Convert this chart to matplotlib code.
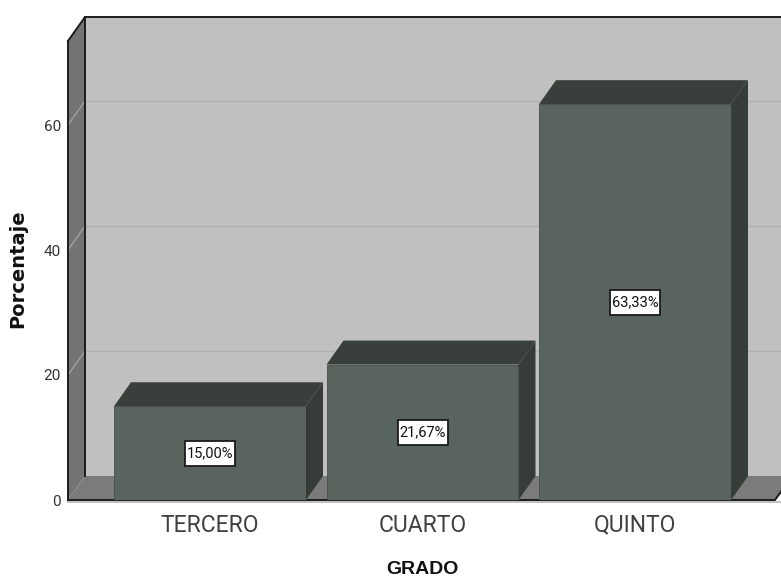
import matplotlib
matplotlib.use('Agg')
import matplotlib.pyplot as plt
from matplotlib.patches import Rectangle

categories = ['TERCERO', 'CUARTO', 'QUINTO']
percentages = [15.00, 21.67, 63.33]
labels = ['15,00%', '21,67%', '63,33%']
y_ticks = [0, 20, 40, 60]

plt.rcParams['font.family'] = ['Roboto', 'DejaVu Sans']

width_px, height_px = 781, 581
fig = plt.figure(figsize=(width_px / 100, height_px / 100), dpi=100)

# axes covers the front plane of the 3d box, pixel positions from the reference
left, right, top, bottom = 68, 781, 17, 500
ax = fig.add_axes([left / width_px, 1 - bottom / height_px,
                   (right - left) / width_px, (bottom - top) / height_px])

px_x = 212.5   # pixels per category
px_y = 6.25    # pixels per percent
first_center = 210
ax.set_xlim((left - first_center) / px_x, (right - first_center) / px_x)
ax.set_ylim(0, (bottom - top) / px_y)
ax.axis('off')

# depth of the fake 3d effect
dx = 17 / px_x
dy = 24 / px_y
bar_w = 192 / px_x

x0, x1 = ax.get_xlim()
y1 = ax.get_ylim()[1]
y_front_top = y1 - dy
x_back = x0 + dx
x_far = x1 + dx

# back wall, left wall, floor
ax.fill([x_back, x_far, x_far, x_back], [dy, dy, y1, y1], fc='#c0c0c0', ec='none', zorder=1, clip_on=False)
ax.fill([x0, x_back, x_back, x0], [0, dy, y1, y_front_top], fc='#747474', ec='none', zorder=1, clip_on=False)
floor_end = x1 - 6 / px_x
ax.fill([x0, x_back, x_far, floor_end], [0, dy, dy, 0], fc='#7b7b7b', ec='none', zorder=1, clip_on=False)

# grid lines run across the wall and the back
for v in y_ticks[1:]:
    ax.plot([x0, x_back], [v, v + dy], color='#a0a0a0', lw=1, zorder=2)
    ax.plot([x_back, x_far], [v + dy, v + dy], color='#b0b0b0', lw=1, zorder=2, clip_on=True)

# box edges
edge = '#1c1c1c'
ax.plot([x0, x0], [0, y_front_top], color=edge, lw=1.4, zorder=3, clip_on=False)
ax.plot([x_back, x_back], [dy, y1], color=edge, lw=1.4, zorder=3, clip_on=False)
ax.plot([x0, x_back, x_far], [y_front_top, y1, y1], color=edge, lw=1.4, zorder=3, clip_on=False)
ax.plot([x0, floor_end, floor_end + dx * 0.4], [0, 0, dy * 0.4], color=edge, lw=1.4, zorder=3, clip_on=False)
ax.plot([x0, x1], [-0.3, -0.3], color='#b5b5b5', lw=1.2, zorder=3, clip_on=False)

# bars
positions = list(range(len(categories)))
bars = ax.bar(positions, percentages, width=bar_w, color='#5a645e', edgecolor='#474f4a', lw=0.6, zorder=4)
for rect, value in zip(bars, percentages):
    a = rect.get_x()
    b = a + rect.get_width()
    ax.fill([a, a + dx, b + dx, b], [value, value + dy, value + dy, value],
            fc='#393f3a', ec='none', zorder=4)
    ax.fill([b, b + dx, b + dx, b], [0, dy, value + dy, value],
            fc='#363c37', ec='none', zorder=4)

# value boxes
box_w = 50 / px_x
box_h = 25 / px_y
for pos, value, lab in zip(positions, percentages, labels):
    ax.add_patch(Rectangle((pos - box_w / 2, value / 2 - box_h / 2), box_w, box_h,
                           fc='white', ec='#1a1a1a', lw=1.3, zorder=5))
    ax.text(pos, value / 2, lab, ha='center', va='center', fontsize=10.5, color='#111111', zorder=6)

# axis text
for v in y_ticks:
    ax.text(x0 - 7 / px_x, v - 1.5 / px_y, str(v), ha='right', va='center', fontsize=11, color='#333333',
            clip_on=False)
for pos, cat in zip(positions, categories):
    ax.text(pos, -25 / px_y, cat, ha='center', va='center', fontsize=16.5, color='#404040', clip_on=False)

fig.text(422 / width_px, 1 - 569 / height_px, 'GRADO', ha='center', va='center',
         fontsize=14, fontweight='bold', color='#111111', family=['Liberation Sans', 'DejaVu Sans'])
fig.text(18 / width_px, 1 - 269 / height_px, 'Porcentaje', ha='center', va='center', rotation=90,
         fontsize=14, fontweight='bold', color='#111111', family=['DejaVu Sans'])

fig.savefig('out.png', dpi=100)
